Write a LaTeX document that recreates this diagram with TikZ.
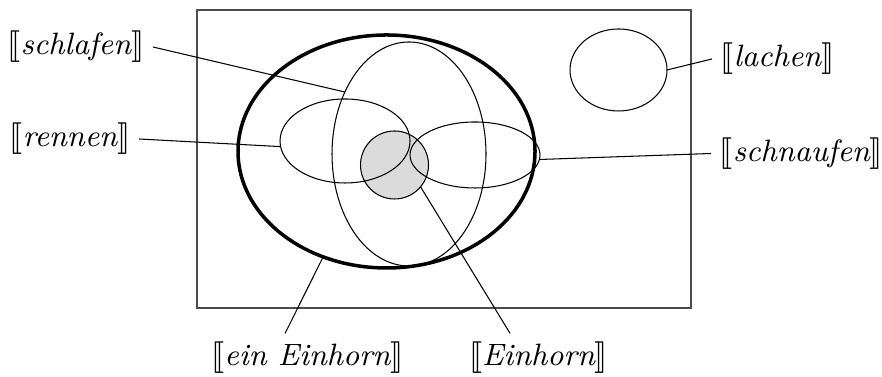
\documentclass[tikz,border=0pt]{standalone}
\usepackage{stmaryrd}
\usetikzlibrary{shapes.geometric}
\tikzset{
  ell/.style 2 args={ellipse, draw, line width=0.3pt, minimum width=#1*0.285pt, minimum height=#2*0.285pt, inner sep=0pt, outer sep=0pt},
  lbl/.style={inner sep=2.3pt, font=\fontsize{8.8}{10.5}\selectfont\itshape},
  conn/.style={line width=0.3pt},
}
\newcommand{\den}[1]{$\llbracket$#1$\rrbracket$}
\begin{document}
\begin{tikzpicture}[x=0.285pt,y=0.285pt]
\useasboundingbox (0,0) rectangle (882,377);
% frame
\node[draw=black!70, line width=0.4pt, minimum width=494*0.285pt, minimum height=298*0.285pt, inner sep=0pt] (frame) at (444,218) {};
% shaded Einhorn circle
\node[ell={68}{68}, fill=black!14] (einh) at (394.5,212) {};
% ellipses
\node[ell={154}{224}] (schl) at (409,223) {};
\node[ell={130}{84}] (renn) at (345,236) {};
\node[ell={130}{66}] (schn) at (475,222) {};
\node[ell={97}{82}] (lach) at (618.5,307) {};
\node[ell={297}{233}, line width=1pt] (eine) at (386.5,225.5) {};
% labels
\node[lbl] (Lschl) at (76,330) {\den{schlafen}};
\node[lbl] (Lrenn) at (70,238) {\den{rennen}};
\node[lbl] (Llach) at (777.5,318) {\den{lachen}};
\node[lbl] (Lschn) at (801.5,223.5) {\den{schnaufen}};
\node[lbl] (Leine) at (307.5,19) {\den{ein Einhorn}};
\node[lbl] (Leinh) at (538.5,19) {\den{Einhorn}};
% connectors
\draw[conn] (Lschl.east) -- (schl.136);
\draw[conn] (Lrenn.east) -- (renn.185);
\draw[conn] (Llach.west) -- (lach.0);
\draw[conn] (Lschn.west) -- (schn.356);
\draw[conn] ([xshift=-6.4pt]Leine.north) -- (eine.239);
\draw[conn] ([xshift=-8.1pt]Leinh.north) -- (einh.320);
\end{tikzpicture}
\end{document}
